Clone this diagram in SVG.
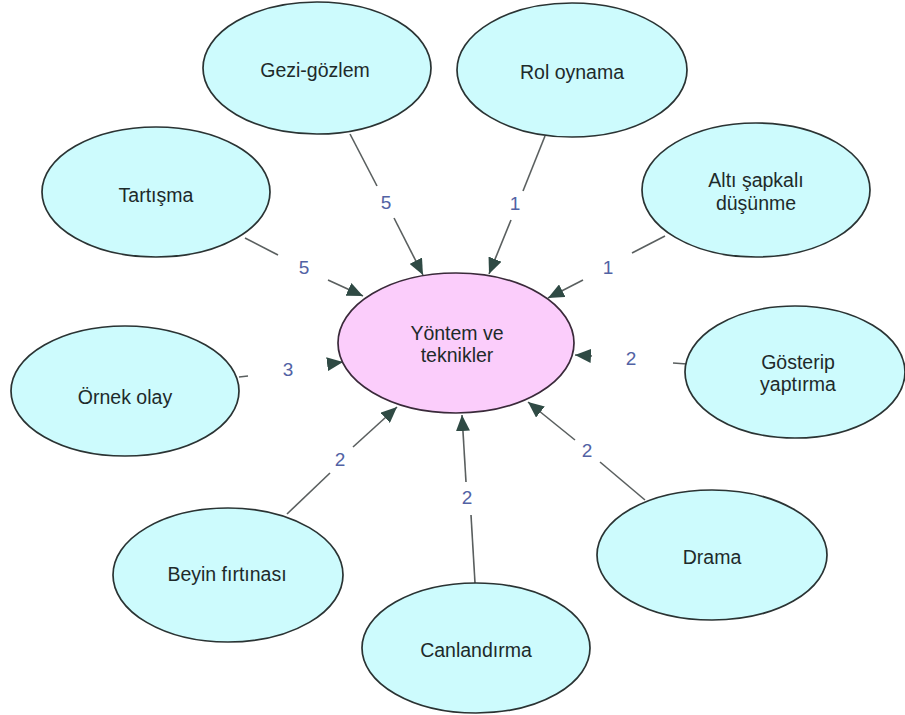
<svg xmlns="http://www.w3.org/2000/svg" width="905" height="715" viewBox="0 0 905 715">
<style>
.n{fill:#cdfbfd;stroke:#2a3333;stroke-width:1.7}
.c{fill:#fbcdfb;stroke:#3a2a3a;stroke-width:1.7}
.t{font-family:"Liberation Sans",Arial,sans-serif;font-size:19.5px;fill:#1e2a2a;text-anchor:middle}
.l{font-family:"Liberation Sans",Arial,sans-serif;font-size:19px;fill:#5262a4;text-anchor:middle}
.e{stroke:#5a5f5f;stroke-width:1.6;fill:none}
</style>
<defs>
<marker id="ah" markerUnits="userSpaceOnUse" markerWidth="18" markerHeight="14" refX="16" refY="7" orient="auto">
<path d="M0,0 L16,7 L0,14 Z" fill="#2f4a44"/>
</marker>
</defs>
<rect width="905" height="715" fill="#ffffff"/>
<g id="connectors">
<line class="e" x1="350" y1="134" x2="377" y2="186"/>
<line class="e" x1="394" y1="218" x2="423" y2="275" marker-end="url(#ah)"/>
<line class="e" x1="545" y1="136" x2="523" y2="191"/>
<line class="e" x1="511" y1="220" x2="489" y2="274" marker-end="url(#ah)"/>
<line class="e" x1="245" y1="238" x2="278" y2="255"/>
<line class="e" x1="328" y1="280" x2="363" y2="296" marker-end="url(#ah)"/>
<line class="e" x1="665" y1="236" x2="632" y2="253"/>
<line class="e" x1="583" y1="280" x2="548" y2="298" marker-end="url(#ah)"/>
<line class="e" x1="687" y1="364" x2="673" y2="363"/>
<line class="e" x1="592" y1="356" x2="575" y2="355" marker-end="url(#ah)"/>
<line class="e" x1="239" y1="377" x2="248" y2="376"/>
<line class="e" x1="328" y1="364" x2="343" y2="362" marker-end="url(#ah)"/>
<line class="e" x1="287" y1="514" x2="330" y2="473"/>
<line class="e" x1="353" y1="447" x2="397" y2="407" marker-end="url(#ah)"/>
<line class="e" x1="475" y1="583" x2="471" y2="515"/>
<line class="e" x1="466" y1="482" x2="462" y2="415" marker-end="url(#ah)"/>
<line class="e" x1="645" y1="500" x2="600" y2="462"/>
<line class="e" x1="575" y1="440" x2="528" y2="402" marker-end="url(#ah)"/>
<text class="l" x="386" y="209">5</text>
<text class="l" x="515" y="210">1</text>
<text class="l" x="304" y="274">5</text>
<text class="l" x="608" y="274">1</text>
<text class="l" x="631" y="365">2</text>
<text class="l" x="288" y="376">3</text>
<text class="l" x="340" y="466">2</text>
<text class="l" x="467" y="504">2</text>
<text class="l" x="587" y="457">2</text>
</g>
<g id="center"><ellipse class="c" cx="456" cy="343" rx="118" ry="70"/><text class="t" x="457" y="340">Yöntem ve</text><text class="t" x="457" y="362">teknikler</text></g>
<g id="gezi"><ellipse class="n" cx="317" cy="68" rx="114" ry="66"/><text class="t" x="315" y="77">Gezi-gözlem</text></g>
<g id="rol"><ellipse class="n" cx="572" cy="70" rx="115" ry="67"/><text class="t" x="572" y="79">Rol oynama</text></g>
<g id="tartisma"><ellipse class="n" cx="156" cy="192" rx="114" ry="65"/><text class="t" x="156" y="202">Tartışma</text></g>
<g id="alti"><ellipse class="n" cx="756" cy="190" rx="114" ry="67"/><text class="t" x="756" y="187">Altı şapkalı</text><text class="t" x="756" y="210">düşünme</text></g>
<g id="gosterip"><ellipse class="n" cx="795" cy="372" rx="110" ry="66"/><text class="t" x="798" y="369">Gösterip</text><text class="t" x="798" y="391">yaptırma</text></g>
<g id="ornek"><ellipse class="n" cx="125" cy="391" rx="114" ry="65"/><text class="t" x="125" y="404">Örnek olay</text></g>
<g id="beyin"><ellipse class="n" cx="228" cy="575" rx="115" ry="67"/><text class="t" x="227" y="581">Beyin fırtınası</text></g>
<g id="canlandirma"><ellipse class="n" cx="476" cy="648" rx="114" ry="65"/><text class="t" x="476" y="657">Canlandırma</text></g>
<g id="drama"><ellipse class="n" cx="712" cy="555" rx="115" ry="65"/><text class="t" x="712" y="564">Drama</text></g>
</svg>
